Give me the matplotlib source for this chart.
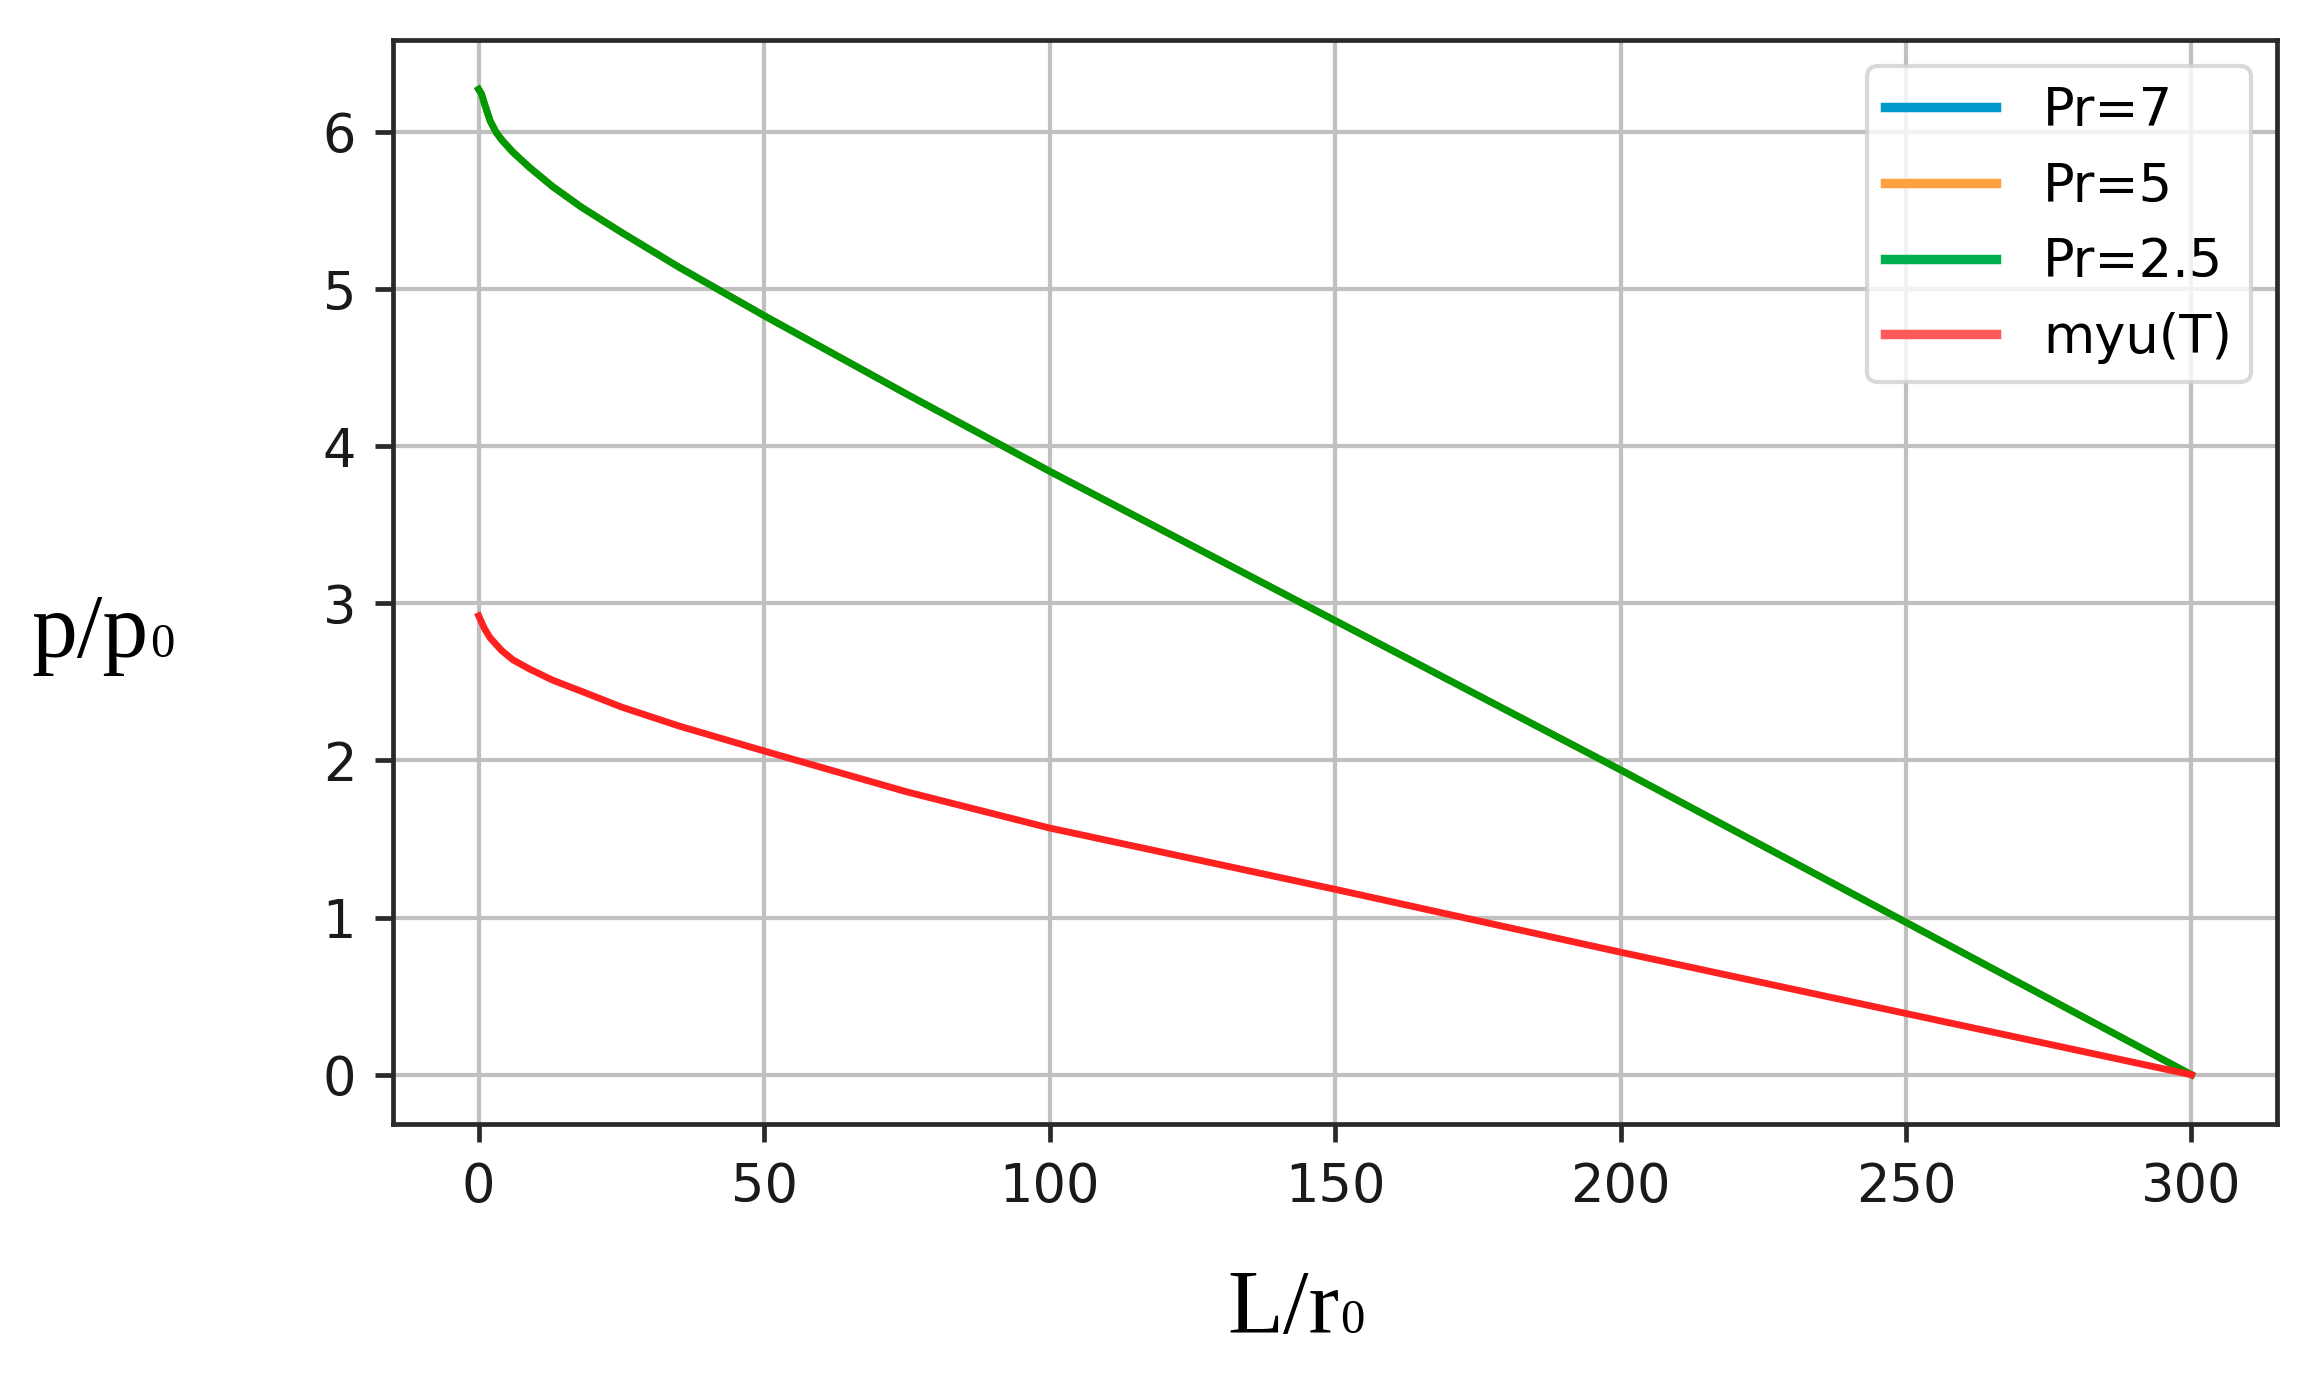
import numpy as np
import matplotlib
matplotlib.use("Agg")
import matplotlib.pyplot as plt
from matplotlib.lines import Line2D

# data (the three Pr curves lie on top of each other)
L = [0, 0.5, 1, 2, 3, 4, 6, 9, 13, 18, 25, 35, 50, 75, 100, 150, 200, 250, 300]
pr7 = [6.27, 6.24, 6.18, 6.07, 6.00, 5.95, 5.87, 5.77, 5.65, 5.52, 5.36, 5.14,
       4.83, 4.33, 3.84, 2.89, 1.94, 0.97, 0.0]
pr5 = [6.27, 6.24, 6.18, 6.07, 6.00, 5.95, 5.87, 5.77, 5.65, 5.52, 5.36, 5.14,
       4.83, 4.33, 3.84, 2.89, 1.94, 0.97, 0.0]
pr25 = [6.27, 6.24, 6.18, 6.07, 6.00, 5.95, 5.87, 5.77, 5.65, 5.52, 5.36, 5.14,
        4.83, 4.33, 3.84, 2.89, 1.94, 0.97, 0.0]
myu = [2.92, 2.88, 2.84, 2.78, 2.74, 2.70, 2.64, 2.58, 2.51, 2.44, 2.34, 2.22,
       2.06, 1.80, 1.57, 1.18, 0.78, 0.39, 0.0]

labels = ["Pr=7", "Pr=5", "Pr=2.5", "myu(T)"]
line_colors = ["#0099cc", "#ff9933", "#009a00", "#ff2020"]
legend_colors = ["#0099cc", "#ffa040", "#00b050", "#ff5a5a"]

s = 3.79  # scale of the original small figure
fig = plt.figure(figsize=(23.12, 13.76), dpi=100)
ax = fig.add_axes([0.170, 0.1831, 0.8149, 0.7878])

for y, c in zip([pr7, pr5, pr25, myu], line_colors):
    ax.plot(L, y, color=c, lw=1.3 * s, solid_joinstyle="round")

ax.set_xticks([0, 50, 100, 150, 200, 250, 300])
ax.set_yticks([0, 1, 2, 3, 4, 5, 6])
ax.grid(True, color="#c0c0c0", lw=0.8 * s)
ax.set_axisbelow(True)
for sp in ax.spines.values():
    sp.set_linewidth(0.9 * s)
    sp.set_color("#2a2a2a")
ax.tick_params(length=3.5 * s, width=0.9 * s, pad=3.5 * s, labelsize=10 * s,
               color="#2a2a2a", labelcolor="#1a1a1a")

handles = [Line2D([], [], color=c, lw=1.8 * s) for c in legend_colors]
leg = ax.legend(handles, labels, loc="upper right", fontsize=10 * s,
                handlelength=2.1, labelspacing=0.45, borderpad=0.35,
                handletextpad=0.9, fancybox=True, framealpha=0.8)
leg.get_frame().set_edgecolor("#d0d0d0")
leg.get_frame().set_linewidth(0.8 * s)

# axis labels with a small "0" sitting on the baseline
serif = "Liberation Serif"
r = fig.canvas.get_renderer()
for x0, y0, txt in [(0.0138, 0.5225, "p/p"), (0.5307, 0.03125, "L/r")]:
    t = fig.text(x0, y0, txt, family=serif, fontsize=66, ha="left", va="baseline")
    bb = t.get_window_extent(renderer=r)
    fig.text(bb.x1 / fig.bbox.width + 0.0005, y0, "0", family=serif,
             fontsize=35, ha="left", va="baseline")

fig.savefig("out.png", dpi=100)
